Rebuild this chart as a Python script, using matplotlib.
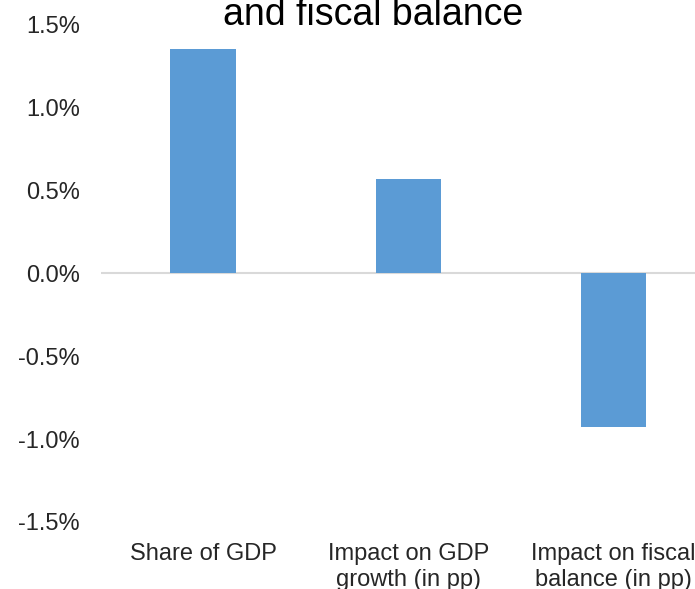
import matplotlib
matplotlib.use("Agg")
import matplotlib.pyplot as plt
from matplotlib.ticker import FuncFormatter

categories = ["Share of GDP", "Impact on GDP\ngrowth (in pp)", "Impact on fiscal\nbalance (in pp)"]
values = [1.35, 0.57, -0.93]
yticks = [-1.5, -1.0, -0.5, 0.0, 0.5, 1.0, 1.5]

plt.rcParams["font.family"] = ["Liberation Sans", "DejaVu Sans"]

fig = plt.figure(figsize=(6.95, 5.89), dpi=100)
ax = fig.add_axes([0.145, 0.1138, 0.885, 0.845])

x = range(len(categories))
ax.bar(x, values, width=0.32, color="#5b9bd5", zorder=2)
ax.axhline(0, color="#d9d9d9", linewidth=1.5, zorder=1)

ax.set_xlim(-0.5, len(categories) - 0.5)
ax.set_ylim(-1.5, 1.5)
ax.set_yticks(yticks)
ax.yaxis.set_major_formatter(FuncFormatter(lambda v, _: f"{v:.1f}%"))
ax.set_xticks(list(x))
ax.set_xticklabels(categories, fontsize=17, color="#262626", linespacing=1.25)

for s in ax.spines.values():
    s.set_visible(False)
ax.tick_params(axis="both", length=0, labelsize=17, colors="#262626")
ax.tick_params(axis="y", pad=15)
ax.tick_params(axis="x", pad=15)

fig.text(0.537, 1 - 25 / 589, "and fiscal balance", ha="center", va="baseline",
         fontsize=27, color="black")

fig.savefig("out.png", dpi=100)
